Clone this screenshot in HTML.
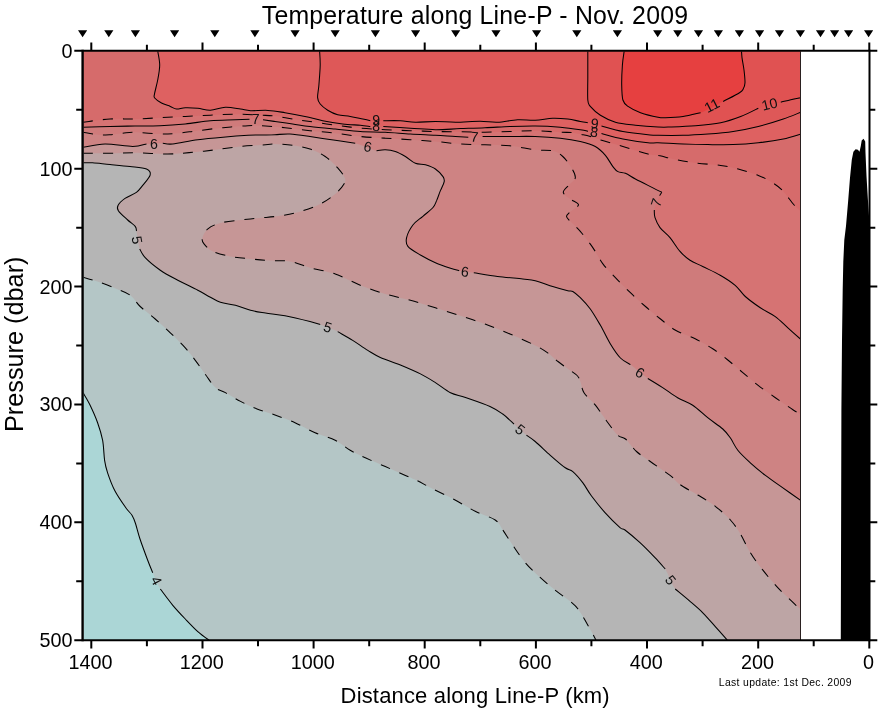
<!DOCTYPE html>
<html lang="en"><head><meta charset="utf-8"><title>Temperature along Line-P - Nov. 2009</title>
<style>
html,body{margin:0;padding:0;background:#fff;}
body{width:878px;height:708px;overflow:hidden;}
svg{display:block;}
text{font-family:"Liberation Sans",sans-serif;fill:#000;}
.tk{font-size:19.8px;}
.cl{font-size:14.2px;fill:#111;text-anchor:middle;}
.ln{fill:none;stroke:#000;stroke-width:1.05;stroke-linejoin:round;}
.ds{stroke-dasharray:10 10;}
.ax{stroke:#000;stroke-width:2.4;fill:none;}
.t1{stroke:#000;stroke-width:2.0;fill:none;}
</style></head><body>
<svg width="878" height="708" viewBox="0 0 878 708">
<rect width="878" height="708" fill="#fff"/>
<g shape-rendering="geometricPrecision">
<rect x="83.6" y="51.6" width="717.0" height="588.6" fill="#abd6d6"/>
<path d="M83.6 392.6C84.7 394.7 87.7 400.0 90.0 405.0C92.3 410.0 95.5 416.8 97.6 422.7C99.7 428.6 101.4 433.9 102.6 440.2C103.8 446.5 103.8 454.9 104.6 460.3C105.4 465.7 105.9 467.7 107.6 472.8C109.3 477.9 111.9 485.1 115.0 491.0C118.1 496.9 123.2 504.0 126.0 508.0C128.8 512.0 130.4 512.6 132.0 515.2C133.6 517.8 134.2 519.5 135.5 523.5C136.8 527.5 138.0 532.9 140.0 539.0C142.0 545.1 145.6 554.6 147.7 560.2C149.8 565.8 150.6 567.9 152.7 572.7C154.8 577.5 157.0 583.6 160.3 589.0C163.7 594.4 168.6 600.3 172.8 605.3C177.0 610.3 181.1 614.6 185.3 619.0C189.5 623.4 193.9 628.1 197.8 631.6C201.8 635.1 207.1 638.8 209.0 640.2L800.6 640.2 L800.6 51.6L83.6 51.6Z" fill="#b4c6c6"/>
<path d="M83.6 277.2C85.9 277.9 92.4 279.7 97.6 281.5C102.8 283.3 109.6 285.9 115.0 288.2C120.4 290.5 126.0 292.1 130.2 295.2C134.4 298.2 136.0 302.5 140.2 306.5C144.4 310.5 150.2 314.6 155.2 319.0C160.2 323.4 165.3 328.0 170.3 332.8C175.3 337.6 181.1 343.3 185.3 347.9C189.5 352.5 192.0 356.0 195.3 360.4C198.7 364.8 202.1 370.0 205.4 374.5C208.8 379.0 212.1 384.6 215.4 387.6C218.7 390.6 221.2 390.3 225.4 392.6C229.6 394.9 235.2 398.7 240.5 401.4C245.8 404.1 251.2 406.6 257.0 408.9C262.8 411.2 268.7 412.7 275.0 415.0C281.3 417.3 288.3 419.7 295.0 422.7C301.7 425.7 308.4 429.9 315.1 432.8C321.8 435.7 329.4 437.4 335.2 440.3C341.0 443.2 345.2 447.4 350.2 450.3C355.2 453.2 359.4 455.1 365.3 457.8C371.2 460.5 378.6 463.7 385.3 466.6C392.0 469.5 400.1 473.1 405.4 475.4C410.7 477.7 412.5 478.3 417.0 480.5C421.5 482.7 426.2 485.6 432.6 488.8C439.0 492.1 448.0 496.2 455.1 500.0C462.2 503.8 468.5 508.0 475.2 511.3C481.9 514.6 490.6 516.9 495.2 520.0C499.8 523.1 499.9 525.8 502.8 530.0C505.7 534.2 509.0 539.8 512.8 545.2C516.5 550.7 520.7 557.3 525.3 562.7C529.9 568.1 535.4 573.1 540.4 577.7C545.4 582.3 550.4 586.3 555.4 590.3C560.4 594.3 566.6 598.4 570.4 601.5C574.2 604.6 575.1 605.0 578.0 609.0C580.9 613.0 585.0 620.2 588.0 625.4C591.0 630.6 594.7 637.7 596.0 640.2L800.6 640.2 L800.6 51.6L83.6 51.6Z" fill="#b5b5b5"/>
<path d="M83.6 162.8C85.1 162.8 88.2 162.5 92.6 162.8C97.0 163.1 103.8 164.0 110.0 164.6C116.2 165.2 123.9 165.9 130.0 166.6C136.1 167.3 143.1 167.6 146.5 169.0C149.9 170.4 150.8 172.1 150.2 174.8C149.6 177.5 145.0 182.5 142.7 185.4C140.4 188.3 139.3 190.2 136.4 192.4C133.5 194.6 128.1 196.2 125.0 198.4C121.9 200.6 119.1 203.3 118.0 205.4C116.9 207.5 116.9 208.6 118.5 211.0C120.1 213.4 124.9 217.4 127.7 220.0C130.5 222.6 133.7 224.5 135.2 226.3C136.7 228.1 135.8 227.2 136.5 231.0C137.2 234.8 138.2 244.5 139.7 248.9C141.1 253.3 141.8 254.1 145.2 257.6C148.6 261.2 154.9 266.4 160.3 270.2C165.7 274.0 171.6 276.9 177.8 280.2C184.1 283.5 192.4 287.4 197.8 290.2C203.2 293.0 206.6 295.2 210.4 297.2C214.2 299.2 216.2 300.9 220.4 302.3C224.6 303.7 230.4 304.0 235.4 305.3C240.4 306.6 245.5 309.0 250.5 310.3C255.5 311.6 259.8 312.1 265.5 313.0C271.2 313.9 277.6 314.4 285.0 315.8C292.4 317.2 304.1 320.1 310.0 321.6C315.9 323.1 315.6 322.9 320.2 324.6C324.8 326.3 332.3 329.0 337.7 331.6C343.1 334.2 347.7 337.3 352.7 340.4C357.7 343.5 363.2 347.6 367.8 350.4C372.4 353.2 374.9 355.0 380.3 357.4C385.7 359.8 393.7 362.2 400.4 365.0C407.1 367.8 414.6 371.0 420.4 373.9C426.2 376.8 430.4 379.5 435.4 382.6C440.4 385.7 445.5 390.2 450.5 392.7C455.5 395.2 458.9 395.1 465.5 397.4C472.1 399.7 483.8 403.6 490.0 406.4C496.2 409.2 498.7 411.1 502.7 414.0C506.7 416.9 510.0 420.4 514.0 424.0C518.0 427.6 523.0 432.4 526.5 435.3C530.0 438.2 531.2 438.2 535.2 441.5C539.2 444.8 545.3 450.9 550.3 455.3C555.3 459.7 561.5 465.1 565.3 467.8C569.0 470.5 569.9 469.1 572.8 471.6C575.7 474.1 579.8 478.8 582.9 482.9C586.0 487.0 587.8 491.1 591.5 496.0C595.2 500.9 600.2 507.3 605.0 512.6C609.8 517.9 616.7 524.7 620.0 527.6C623.3 530.5 621.7 527.5 625.0 530.0C628.3 532.5 635.0 538.1 640.0 542.7C645.0 547.3 650.8 553.3 655.0 557.7C659.2 562.1 661.8 563.8 665.2 569.0C668.6 574.2 671.0 583.6 675.2 589.0C679.4 594.4 685.7 597.6 690.3 601.6C694.9 605.6 698.6 608.6 702.8 612.8C707.0 617.0 711.2 622.0 715.3 626.6C719.4 631.2 725.3 637.9 727.3 640.2L800.6 640.2 L800.6 51.6L83.6 51.6Z" fill="#bda5a5"/>
<path d="M83.6 153.3C88.0 153.3 101.4 153.4 110.0 153.3C118.6 153.2 125.4 152.7 135.0 152.8C144.6 152.9 158.2 154.1 167.8 154.0C177.4 153.9 184.9 153.0 192.8 152.3C200.7 151.6 207.5 150.8 215.4 149.8C223.3 148.8 232.2 147.3 240.5 146.5C248.8 145.7 259.8 145.2 265.5 144.8C271.2 144.4 270.5 143.9 275.0 144.0C279.5 144.1 286.8 144.5 292.6 145.3C298.4 146.1 304.6 147.1 310.0 149.0C315.4 150.9 320.6 153.4 325.2 156.5C329.8 159.6 334.4 164.2 337.7 167.8C340.9 171.4 343.6 175.1 344.7 177.8C345.8 180.5 345.6 181.3 344.0 184.0C342.4 186.7 339.2 190.7 335.2 194.0C331.2 197.3 326.1 201.1 320.2 204.0C314.3 206.9 306.7 209.7 300.0 211.7C293.3 213.7 286.7 214.8 280.0 215.8C273.3 216.9 266.6 217.3 260.0 218.0C253.4 218.7 247.1 219.2 240.5 220.0C233.9 220.8 225.8 221.5 220.4 223.0C215.0 224.5 210.9 226.3 207.9 228.8C204.9 231.3 203.1 235.5 202.4 238.0C201.8 240.5 202.2 241.7 204.0 243.9C205.8 246.1 208.5 249.3 212.9 251.4C217.3 253.5 224.1 255.1 230.4 256.4C236.7 257.6 243.9 258.2 250.5 258.9C257.1 259.6 263.4 260.2 270.0 260.6C276.6 261.0 283.3 260.2 290.0 261.4C296.7 262.6 302.5 265.6 310.0 267.7C317.5 269.8 326.8 271.1 335.2 274.0C343.6 276.9 351.9 281.9 360.3 285.2C368.7 288.5 377.0 291.5 385.3 294.0C393.6 296.5 402.0 298.0 410.4 300.3C418.8 302.6 427.0 305.2 435.4 307.8C443.8 310.4 452.2 313.1 460.5 315.8C468.8 318.5 476.8 321.0 485.0 324.0C493.2 327.0 501.6 330.4 510.0 334.0C518.4 337.6 528.9 342.2 535.2 345.4C541.5 348.5 543.9 350.2 547.7 352.9C551.5 355.6 554.6 358.9 558.0 361.5C561.4 364.1 564.7 366.6 567.8 368.8C570.9 371.1 574.5 372.9 576.6 375.0C578.7 377.1 579.2 378.4 580.4 381.4C581.6 384.3 581.5 388.7 584.0 392.7C586.5 396.7 591.4 400.2 595.4 405.2C599.4 410.2 604.1 417.7 607.9 422.7C611.6 427.7 615.0 432.6 617.9 435.3C620.8 438.0 622.4 436.3 625.5 439.0C628.6 441.7 632.4 447.8 636.5 451.5C640.6 455.2 644.7 457.5 650.3 461.5C655.9 465.5 665.1 471.6 670.1 475.4C675.1 479.2 675.4 481.2 680.0 484.5C684.6 487.8 691.9 491.4 697.8 495.0C703.7 498.6 709.9 502.1 715.3 506.3C720.7 510.5 726.2 515.4 730.4 520.0C734.6 524.6 737.1 528.4 740.4 533.9C743.7 539.4 746.6 546.7 750.4 552.7C754.1 558.8 758.3 564.4 762.9 570.2C767.5 576.1 772.6 582.0 778.0 587.8C783.4 593.6 791.7 601.3 795.5 604.8C799.3 608.3 799.8 608.3 800.6 609.0L800.6 51.6L83.6 51.6Z" fill="#c69696"/>
<path d="M83.6 147.3C87.2 146.8 96.8 144.1 105.0 144.0C113.2 143.9 125.8 146.5 132.7 146.5C139.6 146.5 141.5 144.5 146.5 144.0C151.5 143.5 158.4 143.3 162.8 143.3C167.2 143.3 167.0 144.6 172.8 144.0C178.6 143.4 189.4 140.8 197.8 139.7C206.2 138.6 214.6 137.9 223.0 137.2C231.4 136.4 241.5 135.6 248.0 135.2C254.5 134.8 257.5 135.1 262.0 135.0C266.5 134.9 270.3 134.9 275.0 134.7C279.7 134.5 284.2 133.7 290.0 134.0C295.8 134.3 302.5 135.4 310.0 136.5C317.5 137.6 327.7 139.2 335.2 140.3C342.7 141.4 348.3 141.6 355.2 143.3C362.1 145.1 371.5 149.7 376.5 150.8C381.5 151.9 382.2 149.7 385.3 149.8C388.4 149.9 392.0 150.4 395.3 151.5C398.6 152.6 402.0 154.5 405.4 156.5C408.8 158.5 412.1 161.9 415.4 163.3C418.7 164.7 422.1 163.9 425.4 164.8C428.7 165.8 432.5 167.0 435.4 169.0C438.3 171.0 441.5 174.5 443.0 176.6C444.5 178.7 444.6 179.3 444.2 181.6C443.8 183.9 441.8 187.3 440.5 190.4C439.2 193.5 437.9 197.6 436.7 200.4C435.4 203.2 435.3 204.8 433.0 207.5C430.7 210.2 426.2 213.4 422.9 216.3C419.5 219.2 415.6 221.4 412.9 225.0C410.2 228.6 407.4 234.0 406.6 237.6C405.8 241.2 405.6 243.5 407.9 246.4C410.2 249.3 415.8 252.3 420.4 255.0C425.0 257.7 430.4 260.5 435.4 262.7C440.4 264.9 446.5 266.9 450.5 268.2C454.5 269.5 455.3 269.9 459.2 270.7C463.1 271.4 467.4 271.8 473.8 272.7C480.2 273.6 489.5 275.3 497.6 276.4C505.8 277.4 516.4 278.3 522.7 279.0C529.0 279.7 530.2 279.4 535.2 280.7C540.2 281.9 547.3 284.8 552.7 286.5C558.1 288.2 564.4 289.9 567.8 290.7C571.1 291.5 570.7 290.3 572.8 291.5C574.9 292.7 577.4 294.8 580.3 297.7C583.2 300.6 586.9 304.4 590.3 309.0C593.6 313.6 597.0 319.5 600.4 325.3C603.8 331.1 607.1 338.6 610.4 344.0C613.7 349.4 617.1 354.6 620.4 358.0C623.7 361.4 625.8 361.2 630.4 364.6C635.0 368.0 642.4 374.7 647.8 378.5C653.2 382.3 657.6 384.4 662.6 387.6C667.6 390.8 672.6 394.8 677.6 397.7C682.6 400.6 687.7 401.9 692.7 405.2C697.7 408.5 702.7 413.7 707.7 417.7C712.7 421.7 719.0 425.6 722.8 429.0C726.6 432.4 727.8 434.2 730.3 437.8C732.8 441.4 734.5 446.1 737.8 450.3C741.1 454.5 745.7 458.6 750.3 462.8C754.9 467.0 760.0 471.2 765.4 475.4C770.8 479.6 777.0 483.7 782.9 487.9C788.8 492.1 797.6 498.5 800.6 500.6L800.6 51.6L83.6 51.6Z" fill="#ce8383"/>
<path d="M83.6 132.2C85.9 132.6 93.2 134.3 97.6 134.7C102.0 135.1 105.8 134.9 110.0 134.7C114.2 134.4 118.5 133.6 122.7 133.2C126.9 132.8 128.8 132.1 135.0 132.2C141.2 132.3 152.9 133.8 160.0 134.0C167.1 134.2 171.5 133.8 177.8 133.2C184.1 132.6 190.3 131.6 197.8 130.7C205.3 129.8 214.6 128.5 223.0 127.7C231.4 126.9 240.9 126.0 248.0 125.7C255.1 125.4 259.3 125.7 265.5 126.0C271.7 126.3 277.6 126.9 285.0 127.7C292.4 128.5 301.6 129.8 310.0 130.7C318.4 131.6 326.8 132.2 335.2 133.2C343.6 134.2 351.9 135.7 360.3 136.5C368.7 137.3 377.0 137.7 385.3 138.2C393.6 138.7 402.0 139.1 410.4 139.7C418.8 140.2 427.0 140.8 435.4 141.5C443.8 142.2 452.2 143.4 460.5 144.0C468.8 144.6 476.8 144.5 485.0 144.8C493.2 145.1 501.6 145.0 510.0 145.8C518.4 146.6 528.1 149.0 535.2 149.8C542.3 150.6 548.1 149.7 552.7 150.8C557.3 151.9 559.7 153.7 562.8 156.5C565.9 159.3 569.4 164.2 571.5 167.8C573.6 171.4 575.7 174.9 575.3 177.8C574.9 180.7 571.0 182.6 569.0 185.0C567.0 187.4 563.1 190.1 563.3 192.4C563.5 194.7 567.8 196.9 570.3 199.0C572.8 201.1 578.5 202.7 578.5 204.8C578.5 206.9 572.3 209.9 570.3 211.8C568.3 213.7 566.5 214.7 566.5 216.3C566.5 217.9 568.0 218.8 570.3 221.3C572.6 223.8 576.5 226.9 580.3 231.3C584.0 235.7 589.0 242.2 592.8 247.6C596.6 253.0 599.1 258.9 602.9 263.9C606.7 268.9 610.8 272.9 615.4 277.7C620.0 282.5 625.4 287.9 630.4 292.7C635.4 297.5 640.5 302.1 645.5 306.5C650.5 310.9 655.6 315.1 660.5 319.0C665.4 322.9 669.3 326.7 675.1 330.0C680.9 333.3 688.9 335.7 695.2 338.8C701.5 341.9 707.3 345.3 712.7 348.8C718.1 352.3 722.8 356.0 727.8 360.0C732.8 364.0 737.8 368.4 742.8 372.6C747.8 376.8 752.4 380.9 757.8 385.1C763.2 389.3 769.5 393.6 775.4 397.7C781.2 401.8 788.7 406.9 792.9 409.7C797.1 412.5 799.3 413.5 800.6 414.3L800.6 51.6L83.6 51.6Z" fill="#cf7b7b"/>
<path d="M83.6 127.2C88.0 127.1 101.4 126.7 110.0 126.5C118.6 126.3 126.7 126.1 135.0 126.0C143.3 125.9 151.6 126.0 160.0 125.7C168.4 125.4 176.9 124.8 185.3 124.0C193.7 123.2 202.1 121.4 210.4 120.7C218.8 120.0 228.9 120.0 235.4 119.7C241.9 119.5 244.9 119.2 249.5 119.2C254.1 119.2 258.8 119.3 263.0 119.7C267.2 120.1 270.1 120.8 275.0 121.5C279.9 122.2 286.8 123.2 292.6 124.0C298.4 124.8 302.9 125.7 310.0 126.5C317.1 127.3 326.8 128.2 335.2 129.0C343.6 129.8 351.9 131.0 360.3 131.5C368.7 132.0 377.0 131.8 385.3 132.2C393.6 132.6 402.0 133.5 410.4 134.0C418.8 134.5 427.9 134.8 435.4 135.2C442.9 135.6 450.0 136.2 455.5 136.5C461.0 136.8 463.8 137.2 468.3 137.2C472.8 137.2 475.7 136.6 482.6 136.5C489.6 136.4 501.2 136.5 510.0 136.5C518.8 136.5 526.8 136.2 535.2 136.5C543.6 136.8 552.8 137.4 560.3 138.2C567.8 139.0 574.5 140.1 580.3 141.5C586.1 142.9 591.1 144.2 595.3 146.5C599.5 148.8 602.5 152.0 605.4 155.3C608.3 158.7 610.8 163.9 612.9 166.6C615.0 169.3 615.8 170.5 617.9 171.6C620.0 172.7 622.5 172.1 625.4 173.3C628.3 174.5 631.6 177.0 635.4 179.0C639.2 181.0 643.6 183.2 648.0 185.4C652.4 187.6 659.5 191.2 661.8 192.3C664.1 193.5 662.2 191.8 661.8 192.3C661.4 192.9 660.9 192.7 659.6 195.6C658.4 198.5 655.1 206.3 654.3 210.0C653.5 213.7 654.0 214.7 655.0 217.6C656.0 220.5 657.5 224.3 660.0 227.6C662.5 230.9 666.7 233.6 670.0 237.6C673.3 241.6 676.7 247.6 680.0 251.4C683.3 255.2 686.2 257.7 690.0 260.2C693.8 262.7 697.7 264.0 702.7 266.5C707.7 269.0 714.8 272.1 720.2 275.2C725.6 278.3 731.0 281.8 735.2 285.3C739.4 288.9 741.1 292.8 745.3 296.5C749.5 300.2 755.3 304.4 760.3 307.8C765.3 311.2 770.7 313.2 775.3 316.6C779.9 320.0 783.7 324.1 787.9 327.9C792.1 331.7 798.5 337.6 800.6 339.5L800.6 51.6L83.6 51.6Z" fill="#d67373"/>
<path d="M83.6 122.2C88.0 121.7 101.4 119.5 110.0 119.0C118.6 118.5 126.7 119.2 135.0 119.0C143.3 118.8 151.6 118.1 160.0 117.7C168.4 117.3 176.9 116.8 185.3 116.4C193.7 116.0 202.1 115.6 210.4 115.2C218.8 114.8 227.1 114.2 235.4 114.2C243.7 114.2 253.4 114.9 260.0 115.2C266.6 115.5 269.6 115.4 275.0 116.0C280.4 116.6 286.8 118.1 292.6 119.0C298.4 119.9 302.9 120.5 310.0 121.5C317.1 122.5 326.8 124.1 335.2 125.2C343.6 126.3 351.9 127.4 360.3 128.2C368.7 128.9 377.0 129.3 385.3 129.7C393.6 130.1 402.0 130.4 410.4 130.7C418.8 131.0 427.0 131.3 435.4 131.5C443.8 131.7 452.2 131.7 460.5 131.8C468.8 131.9 476.8 132.2 485.0 132.2C493.2 132.1 501.6 131.8 510.0 131.5C518.4 131.2 526.8 130.6 535.2 130.7C543.6 130.8 554.0 131.9 560.3 132.2C566.6 132.5 569.0 132.3 572.8 132.7C576.5 133.1 579.9 134.1 582.8 134.7C585.7 135.3 587.2 135.6 590.3 136.5C593.4 137.4 596.2 138.6 601.6 140.3C607.0 142.0 615.2 144.2 622.9 146.5C630.6 148.8 641.8 152.4 648.0 154.0C654.2 155.6 655.8 155.0 660.0 155.8C664.2 156.6 667.1 157.8 673.0 159.0C678.9 160.2 687.6 161.8 695.6 162.9C703.6 164.0 713.6 164.4 720.7 165.4C727.8 166.4 731.9 167.3 738.2 169.0C744.5 170.7 752.9 173.3 758.3 175.4C763.7 177.5 766.8 179.3 770.8 181.7C774.8 184.1 778.1 186.1 782.0 190.0C785.9 193.9 791.0 201.5 794.1 205.0C797.2 208.5 799.5 210.0 800.6 211.0L800.6 51.6L83.6 51.6Z" fill="#d66b6b"/>
<path d="M157.7 51.6C158.0 53.8 159.7 60.3 159.7 65.0C159.7 69.7 158.6 75.2 157.7 80.0C156.8 84.8 155.0 91.0 154.5 94.0C154.0 97.0 153.5 96.5 154.7 98.0C155.9 99.5 158.9 101.6 161.5 103.0C164.1 104.4 167.8 105.4 170.3 106.4C172.8 107.4 174.0 108.8 176.5 109.0C179.0 109.2 181.8 107.8 185.3 107.7C188.9 107.6 193.6 107.8 197.8 108.2C202.0 108.6 205.8 110.4 210.4 110.2C215.0 110.0 220.4 107.4 225.4 107.2C230.4 107.0 236.3 108.4 240.5 109.0C244.7 109.6 245.9 110.5 250.5 110.7C255.1 110.9 262.2 110.1 268.0 110.4C273.8 110.7 278.8 111.7 285.0 112.7C291.2 113.7 298.7 115.1 305.0 116.4C311.3 117.7 316.4 119.4 322.7 120.7C329.0 122.0 336.4 123.2 342.7 124.0C349.0 124.8 355.7 124.8 360.3 125.2C364.9 125.6 366.5 126.3 370.3 126.5C374.1 126.7 376.6 126.2 383.3 126.5C390.0 126.8 401.7 127.7 410.4 128.2C419.1 128.7 427.0 129.6 435.4 129.7C443.8 129.8 452.2 128.9 460.5 128.6C468.8 128.3 476.8 128.1 485.0 127.7C493.2 127.4 501.6 126.8 510.0 126.5C518.4 126.2 526.8 125.9 535.2 126.0C543.6 126.1 552.8 126.6 560.3 127.2C567.8 127.8 575.7 129.0 580.3 129.7C584.9 130.4 584.5 130.7 588.0 131.3C591.5 132.0 595.7 132.3 601.5 133.6C607.3 134.9 615.1 137.5 622.9 139.0C630.6 140.5 642.1 142.2 648.0 142.8C653.9 143.4 652.2 142.6 658.0 142.8C663.8 143.0 674.7 143.7 683.0 144.0C691.3 144.3 699.6 144.5 708.0 144.6C716.4 144.7 724.8 144.9 733.2 144.6C741.6 144.3 749.9 143.7 758.3 142.8C766.6 141.9 776.2 140.5 783.3 139.0C790.3 137.5 797.7 134.8 800.6 134.0L800.6 51.6Z" fill="#de6161"/>
<path d="M319.6 51.6C319.7 53.8 320.3 59.4 320.2 65.0C320.1 70.6 319.3 79.6 318.9 85.0C318.5 90.4 317.4 94.4 317.6 97.6C317.8 100.8 318.5 101.9 320.2 104.0C321.9 106.1 324.8 108.4 327.7 110.2C330.6 112.0 333.9 113.7 337.7 114.7C341.4 115.7 346.0 115.7 350.2 116.4C354.4 117.1 359.4 118.3 362.8 119.0C366.2 119.7 366.9 120.4 370.3 120.7C373.7 121.0 378.3 120.7 383.3 120.7C388.3 120.7 395.0 120.5 400.4 120.7C405.8 121.0 409.6 122.1 415.4 122.2C421.2 122.3 428.7 121.5 435.4 121.5C442.1 121.5 448.1 122.2 455.5 122.2C462.9 122.2 473.0 121.2 480.0 121.2C487.0 121.2 491.3 122.5 497.6 122.2C503.9 122.0 511.3 120.0 517.6 119.7C523.9 119.4 529.4 120.5 535.2 120.2C541.1 120.0 547.3 118.4 552.7 118.2C558.1 118.0 563.2 118.5 567.8 119.0C572.4 119.5 577.0 120.9 580.3 121.5C583.6 122.1 584.3 122.0 587.8 122.7C591.3 123.5 595.6 124.5 601.5 126.0C607.4 127.5 615.1 130.1 622.9 131.5C630.6 132.9 642.1 134.1 648.0 134.7C653.9 135.3 652.2 135.2 658.0 135.3C663.8 135.4 674.7 135.5 683.0 135.3C691.3 135.1 699.6 134.6 708.0 134.0C716.4 133.4 724.8 132.8 733.2 131.5C741.6 130.2 749.9 128.6 758.3 126.5C766.6 124.4 776.2 121.4 783.3 119.0C790.3 116.6 797.7 113.3 800.6 112.2L800.6 51.6Z" fill="#de5858"/>
<path d="M587.8 51.6C587.8 55.9 587.8 69.5 587.8 77.6C587.8 85.7 587.4 95.2 587.8 100.0C588.2 104.8 588.2 103.9 590.3 106.4C592.4 108.9 596.2 112.6 600.4 115.2C604.6 117.8 609.6 120.5 615.4 122.2C621.2 123.9 628.3 124.4 635.4 125.2C642.5 126.0 652.1 126.7 658.0 127.0C663.9 127.3 664.2 127.2 670.5 127.0C676.8 126.8 687.2 126.5 695.6 125.8C704.0 125.1 713.2 124.3 720.7 122.8C728.2 121.2 734.4 118.9 740.7 116.5C747.0 114.1 751.6 110.6 758.3 108.2C765.0 105.8 775.4 103.6 780.8 102.2C786.2 100.8 787.5 100.5 790.8 99.7C794.1 99.0 799.0 98.0 800.6 97.7L800.6 51.6Z" fill="#e05252"/>
<path d="M624.2 51.6C623.9 53.8 622.8 59.4 622.4 65.0C622.0 70.6 621.6 79.2 621.7 85.0C621.8 90.8 621.9 96.4 622.9 100.0C623.9 103.6 625.1 104.3 628.0 106.4C630.9 108.5 635.5 110.9 640.5 112.7C645.5 114.5 653.8 116.4 658.0 117.2C662.2 118.0 661.3 117.8 665.5 117.7C669.7 117.6 677.1 117.3 683.0 116.5C688.9 115.7 693.9 115.2 700.6 112.7C707.3 110.2 716.7 104.8 723.2 101.5C729.7 98.2 736.2 94.8 739.5 92.7C742.8 90.6 742.3 90.7 743.2 89.0C744.1 87.3 744.9 85.9 745.0 82.7C745.1 79.5 744.5 74.2 744.0 70.0C743.5 65.8 742.4 60.7 742.0 57.6C741.6 54.5 741.6 52.6 741.5 51.6Z" fill="#e64040"/>
</g>
<clipPath id="cp"><rect x="83.6" y="51.6" width="717.3" height="588.6"/></clipPath>
<g class="ln" clip-path="url(#cp)">
<path d="M83.0 392.6C84.2 394.7 87.6 400.0 90.0 405.0C92.4 410.0 95.5 416.8 97.6 422.7C99.7 428.6 101.4 433.9 102.6 440.2C103.8 446.5 103.8 454.9 104.6 460.3C105.4 465.7 105.9 467.7 107.6 472.8C109.3 477.9 111.9 485.1 115.0 491.0C118.1 496.9 123.2 504.0 126.0 508.0C128.8 512.0 130.4 512.6 132.0 515.2C133.6 517.8 134.2 519.5 135.5 523.5C136.8 527.5 138.0 532.9 140.0 539.0C142.0 545.1 145.6 554.6 147.7 560.2C149.8 565.8 151.9 570.6 152.7 572.7"/>
<path d="M160.3 589.0C162.4 591.7 168.6 600.3 172.8 605.3C177.0 610.3 181.1 614.6 185.3 619.0C189.5 623.4 193.9 628.1 197.8 631.6C201.8 635.1 207.1 638.8 209.0 640.2"/>
<path class="ds" d="M83.0 277.2C85.4 277.9 92.3 279.7 97.6 281.5C102.9 283.3 109.6 285.9 115.0 288.2C120.4 290.5 126.0 292.1 130.2 295.2C134.4 298.2 136.0 302.5 140.2 306.5C144.4 310.5 150.2 314.6 155.2 319.0C160.2 323.4 165.3 328.0 170.3 332.8C175.3 337.6 181.1 343.3 185.3 347.9C189.5 352.5 192.0 356.0 195.3 360.4C198.7 364.8 202.1 370.0 205.4 374.5C208.8 379.0 212.1 384.6 215.4 387.6C218.7 390.6 221.2 390.3 225.4 392.6C229.6 394.9 235.2 398.7 240.5 401.4C245.8 404.1 251.2 406.6 257.0 408.9C262.8 411.2 268.7 412.7 275.0 415.0C281.3 417.3 288.3 419.7 295.0 422.7C301.7 425.7 308.4 429.9 315.1 432.8C321.8 435.7 329.4 437.4 335.2 440.3C341.0 443.2 345.2 447.4 350.2 450.3C355.2 453.2 359.4 455.1 365.3 457.8C371.2 460.5 378.6 463.7 385.3 466.6C392.0 469.5 400.1 473.1 405.4 475.4C410.7 477.7 412.5 478.3 417.0 480.5C421.5 482.7 426.2 485.6 432.6 488.8C439.0 492.1 448.0 496.2 455.1 500.0C462.2 503.8 468.5 508.0 475.2 511.3C481.9 514.6 490.6 516.9 495.2 520.0C499.8 523.1 499.9 525.8 502.8 530.0C505.7 534.2 509.0 539.8 512.8 545.2C516.5 550.7 520.7 557.3 525.3 562.7C529.9 568.1 535.4 573.1 540.4 577.7C545.4 582.3 550.4 586.3 555.4 590.3C560.4 594.3 566.6 598.4 570.4 601.5C574.2 604.6 575.1 605.0 578.0 609.0C580.9 613.0 585.0 620.2 588.0 625.4C591.0 630.6 594.7 637.7 596.0 640.2"/>
<path d="M83.0 162.8C84.6 162.8 88.1 162.5 92.6 162.8C97.1 163.1 103.8 164.0 110.0 164.6C116.2 165.2 123.9 165.9 130.0 166.6C136.1 167.3 143.1 167.6 146.5 169.0C149.9 170.4 150.8 172.1 150.2 174.8C149.6 177.5 145.0 182.5 142.7 185.4C140.4 188.3 139.3 190.2 136.4 192.4C133.5 194.6 128.1 196.2 125.0 198.4C121.9 200.6 119.1 203.3 118.0 205.4C116.9 207.5 116.9 208.6 118.5 211.0C120.1 213.4 124.9 217.4 127.7 220.0C130.5 222.6 133.7 224.5 135.2 226.3C136.7 228.1 136.3 230.2 136.5 231.0"/>
<path d="M139.7 248.9C140.6 250.4 141.8 254.1 145.2 257.6C148.6 261.2 154.9 266.4 160.3 270.2C165.7 274.0 171.6 276.9 177.8 280.2C184.1 283.5 192.4 287.4 197.8 290.2C203.2 293.0 206.6 295.2 210.4 297.2C214.2 299.2 216.2 300.9 220.4 302.3C224.6 303.7 230.4 304.0 235.4 305.3C240.4 306.6 245.5 309.0 250.5 310.3C255.5 311.6 259.8 312.1 265.5 313.0C271.2 313.9 277.6 314.4 285.0 315.8C292.4 317.2 304.1 320.1 310.0 321.6C315.9 323.1 318.5 324.1 320.2 324.6"/>
<path d="M337.7 331.6C340.2 333.1 347.7 337.3 352.7 340.4C357.7 343.5 363.2 347.6 367.8 350.4C372.4 353.2 374.9 355.0 380.3 357.4C385.7 359.8 393.7 362.2 400.4 365.0C407.1 367.8 414.6 371.0 420.4 373.9C426.2 376.8 430.4 379.5 435.4 382.6C440.4 385.7 445.5 390.2 450.5 392.7C455.5 395.2 458.9 395.1 465.5 397.4C472.1 399.7 483.8 403.6 490.0 406.4C496.2 409.2 498.7 411.1 502.7 414.0C506.7 416.9 512.1 422.3 514.0 424.0"/>
<path d="M526.5 435.3C528.0 436.3 531.2 438.2 535.2 441.5C539.2 444.8 545.3 450.9 550.3 455.3C555.3 459.7 561.5 465.1 565.3 467.8C569.0 470.5 569.9 469.1 572.8 471.6C575.7 474.1 579.8 478.8 582.9 482.9C586.0 487.0 587.8 491.1 591.5 496.0C595.2 500.9 600.2 507.3 605.0 512.6C609.8 517.9 616.7 524.7 620.0 527.6C623.3 530.5 621.7 527.5 625.0 530.0C628.3 532.5 635.0 538.1 640.0 542.7C645.0 547.3 650.8 553.3 655.0 557.7C659.2 562.1 663.5 567.1 665.2 569.0"/>
<path d="M675.2 589.0C677.7 591.1 685.7 597.6 690.3 601.6C694.9 605.6 698.6 608.6 702.8 612.8C707.0 617.0 711.2 622.0 715.3 626.6C719.4 631.2 725.3 637.9 727.3 640.2"/>
<path class="ds" d="M83.0 153.3C87.5 153.3 101.3 153.4 110.0 153.3C118.7 153.2 125.4 152.7 135.0 152.8C144.6 152.9 158.2 154.1 167.8 154.0C177.4 153.9 184.9 153.0 192.8 152.3C200.7 151.6 207.5 150.8 215.4 149.8C223.3 148.8 232.2 147.3 240.5 146.5C248.8 145.7 259.8 145.2 265.5 144.8C271.2 144.4 270.5 143.9 275.0 144.0C279.5 144.1 286.8 144.5 292.6 145.3C298.4 146.1 304.6 147.1 310.0 149.0C315.4 150.9 320.6 153.4 325.2 156.5C329.8 159.6 334.4 164.2 337.7 167.8C340.9 171.4 343.6 175.1 344.7 177.8C345.8 180.5 345.6 181.3 344.0 184.0C342.4 186.7 339.2 190.7 335.2 194.0C331.2 197.3 326.1 201.1 320.2 204.0C314.3 206.9 306.7 209.7 300.0 211.7C293.3 213.7 286.7 214.8 280.0 215.8C273.3 216.9 266.6 217.3 260.0 218.0C253.4 218.7 247.1 219.2 240.5 220.0C233.9 220.8 225.8 221.5 220.4 223.0C215.0 224.5 210.9 226.3 207.9 228.8C204.9 231.3 203.1 235.5 202.4 238.0C201.8 240.5 202.2 241.7 204.0 243.9C205.8 246.1 208.5 249.3 212.9 251.4C217.3 253.5 224.1 255.1 230.4 256.4C236.7 257.6 243.9 258.2 250.5 258.9C257.1 259.6 263.4 260.2 270.0 260.6C276.6 261.0 283.3 260.2 290.0 261.4C296.7 262.6 302.5 265.6 310.0 267.7C317.5 269.8 326.8 271.1 335.2 274.0C343.6 276.9 351.9 281.9 360.3 285.2C368.7 288.5 377.0 291.5 385.3 294.0C393.6 296.5 402.0 298.0 410.4 300.3C418.8 302.6 427.0 305.2 435.4 307.8C443.8 310.4 452.2 313.1 460.5 315.8C468.8 318.5 476.8 321.0 485.0 324.0C493.2 327.0 501.6 330.4 510.0 334.0C518.4 337.6 528.9 342.2 535.2 345.4C541.5 348.5 543.9 350.2 547.7 352.9C551.5 355.6 554.6 358.9 558.0 361.5C561.4 364.1 564.7 366.6 567.8 368.8C570.9 371.1 574.5 372.9 576.6 375.0C578.7 377.1 579.2 378.4 580.4 381.4C581.6 384.3 581.5 388.7 584.0 392.7C586.5 396.7 591.4 400.2 595.4 405.2C599.4 410.2 604.1 417.7 607.9 422.7C611.6 427.7 615.0 432.6 617.9 435.3C620.8 438.0 622.4 436.3 625.5 439.0C628.6 441.7 632.4 447.8 636.5 451.5C640.6 455.2 644.7 457.5 650.3 461.5C655.9 465.5 665.1 471.6 670.1 475.4C675.1 479.2 675.4 481.2 680.0 484.5C684.6 487.8 691.9 491.4 697.8 495.0C703.7 498.6 709.9 502.1 715.3 506.3C720.7 510.5 726.2 515.4 730.4 520.0C734.6 524.6 737.1 528.4 740.4 533.9C743.7 539.4 746.6 546.7 750.4 552.7C754.1 558.8 758.3 564.4 762.9 570.2C767.5 576.1 772.6 582.0 778.0 587.8C783.4 593.6 791.7 601.3 795.5 604.8C799.3 608.3 800.1 608.3 801.0 609.0"/>
<path d="M83.0 147.3C86.7 146.8 96.7 144.1 105.0 144.0C113.3 143.9 125.8 146.5 132.7 146.5C139.6 146.5 144.2 144.4 146.5 144.0"/>
<path d="M162.8 143.3C164.5 143.4 167.0 144.6 172.8 144.0C178.6 143.4 189.4 140.8 197.8 139.7C206.2 138.6 214.6 137.9 223.0 137.2C231.4 136.4 241.5 135.6 248.0 135.2C254.5 134.8 257.5 135.1 262.0 135.0C266.5 134.9 270.3 134.9 275.0 134.7C279.7 134.5 284.2 133.7 290.0 134.0C295.8 134.3 302.5 135.4 310.0 136.5C317.5 137.6 327.7 139.2 335.2 140.3C342.7 141.4 351.9 142.8 355.2 143.3"/>
<path d="M376.5 150.8C378.0 150.6 382.2 149.7 385.3 149.8C388.4 149.9 392.0 150.4 395.3 151.5C398.6 152.6 402.0 154.5 405.4 156.5C408.8 158.5 412.1 161.9 415.4 163.3C418.7 164.7 422.1 163.9 425.4 164.8C428.7 165.8 432.5 167.0 435.4 169.0C438.3 171.0 441.5 174.5 443.0 176.6C444.5 178.7 444.6 179.3 444.2 181.6C443.8 183.9 441.8 187.3 440.5 190.4C439.2 193.5 437.9 197.6 436.7 200.4C435.4 203.2 435.3 204.8 433.0 207.5C430.7 210.2 426.2 213.4 422.9 216.3C419.5 219.2 415.6 221.4 412.9 225.0C410.2 228.6 407.4 234.0 406.6 237.6C405.8 241.2 405.6 243.5 407.9 246.4C410.2 249.3 415.8 252.3 420.4 255.0C425.0 257.7 430.4 260.5 435.4 262.7C440.4 264.9 446.5 266.9 450.5 268.2C454.5 269.5 457.8 270.3 459.2 270.7"/>
<path d="M473.8 272.7C477.8 273.3 489.5 275.3 497.6 276.4C505.8 277.4 516.4 278.3 522.7 279.0C529.0 279.7 530.2 279.4 535.2 280.7C540.2 281.9 547.3 284.8 552.7 286.5C558.1 288.2 564.4 289.9 567.8 290.7C571.1 291.5 570.7 290.3 572.8 291.5C574.9 292.7 577.4 294.8 580.3 297.7C583.2 300.6 586.9 304.4 590.3 309.0C593.6 313.6 597.0 319.5 600.4 325.3C603.8 331.1 607.1 338.6 610.4 344.0C613.7 349.4 617.1 354.6 620.4 358.0C623.7 361.4 628.7 363.5 630.4 364.6"/>
<path d="M647.8 378.5C650.3 380.0 657.6 384.4 662.6 387.6C667.6 390.8 672.6 394.8 677.6 397.7C682.6 400.6 687.7 401.9 692.7 405.2C697.7 408.5 702.7 413.7 707.7 417.7C712.7 421.7 719.0 425.6 722.8 429.0C726.6 432.4 727.8 434.2 730.3 437.8C732.8 441.4 734.5 446.1 737.8 450.3C741.1 454.5 745.7 458.6 750.3 462.8C754.9 467.0 760.0 471.2 765.4 475.4C770.8 479.6 777.0 483.7 782.9 487.9C788.8 492.1 798.0 498.5 801.0 500.6"/>
<path class="ds" d="M83.0 132.2C85.4 132.6 93.1 134.3 97.6 134.7C102.1 135.1 105.8 134.9 110.0 134.7C114.2 134.4 118.5 133.6 122.7 133.2C126.9 132.8 128.8 132.1 135.0 132.2C141.2 132.3 152.9 133.8 160.0 134.0C167.1 134.2 171.5 133.8 177.8 133.2C184.1 132.6 190.3 131.6 197.8 130.7C205.3 129.8 214.6 128.5 223.0 127.7C231.4 126.9 240.9 126.0 248.0 125.7C255.1 125.4 259.3 125.7 265.5 126.0C271.7 126.3 277.6 126.9 285.0 127.7C292.4 128.5 301.6 129.8 310.0 130.7C318.4 131.6 326.8 132.2 335.2 133.2C343.6 134.2 351.9 135.7 360.3 136.5C368.7 137.3 377.0 137.7 385.3 138.2C393.6 138.7 402.0 139.1 410.4 139.7C418.8 140.2 427.0 140.8 435.4 141.5C443.8 142.2 452.2 143.4 460.5 144.0C468.8 144.6 476.8 144.5 485.0 144.8C493.2 145.1 501.6 145.0 510.0 145.8C518.4 146.6 528.1 149.0 535.2 149.8C542.3 150.6 548.1 149.7 552.7 150.8C557.3 151.9 559.7 153.7 562.8 156.5C565.9 159.3 569.4 164.2 571.5 167.8C573.6 171.4 575.7 174.9 575.3 177.8C574.9 180.7 571.0 182.6 569.0 185.0C567.0 187.4 563.1 190.1 563.3 192.4C563.5 194.7 567.8 196.9 570.3 199.0C572.8 201.1 578.5 202.7 578.5 204.8C578.5 206.9 572.3 209.9 570.3 211.8C568.3 213.7 566.5 214.7 566.5 216.3C566.5 217.9 568.0 218.8 570.3 221.3C572.6 223.8 576.5 226.9 580.3 231.3C584.0 235.7 589.0 242.2 592.8 247.6C596.6 253.0 599.1 258.9 602.9 263.9C606.7 268.9 610.8 272.9 615.4 277.7C620.0 282.5 625.4 287.9 630.4 292.7C635.4 297.5 640.5 302.1 645.5 306.5C650.5 310.9 655.6 315.1 660.5 319.0C665.4 322.9 669.3 326.7 675.1 330.0C680.9 333.3 688.9 335.7 695.2 338.8C701.5 341.9 707.3 345.3 712.7 348.8C718.1 352.3 722.8 356.0 727.8 360.0C732.8 364.0 737.8 368.4 742.8 372.6C747.8 376.8 752.4 380.9 757.8 385.1C763.2 389.3 769.5 393.6 775.4 397.7C781.2 401.8 788.6 406.9 792.9 409.7C797.2 412.5 799.6 413.5 801.0 414.3"/>
<path d="M83.0 127.2C87.5 127.1 101.3 126.7 110.0 126.5C118.7 126.3 126.7 126.1 135.0 126.0C143.3 125.9 151.6 126.0 160.0 125.7C168.4 125.4 176.9 124.8 185.3 124.0C193.7 123.2 202.1 121.4 210.4 120.7C218.8 120.0 228.9 120.0 235.4 119.7C241.9 119.5 247.2 119.3 249.5 119.2"/>
<path d="M263.0 119.7C265.0 120.0 270.1 120.8 275.0 121.5C279.9 122.2 286.8 123.2 292.6 124.0C298.4 124.8 302.9 125.7 310.0 126.5C317.1 127.3 326.8 128.2 335.2 129.0C343.6 129.8 351.9 131.0 360.3 131.5C368.7 132.0 377.0 131.8 385.3 132.2C393.6 132.6 402.0 133.5 410.4 134.0C418.8 134.5 427.9 134.8 435.4 135.2C442.9 135.6 450.0 136.2 455.5 136.5C461.0 136.8 466.2 137.1 468.3 137.2"/>
<path d="M482.6 136.5C487.2 136.5 501.2 136.5 510.0 136.5C518.8 136.5 526.8 136.2 535.2 136.5C543.6 136.8 552.8 137.4 560.3 138.2C567.8 139.0 574.5 140.1 580.3 141.5C586.1 142.9 591.1 144.2 595.3 146.5C599.5 148.8 602.5 152.0 605.4 155.3C608.3 158.7 610.8 163.9 612.9 166.6C615.0 169.3 615.8 170.5 617.9 171.6C620.0 172.7 622.5 172.1 625.4 173.3C628.3 174.5 631.6 177.0 635.4 179.0C639.2 181.0 643.6 183.2 648.0 185.4C652.4 187.6 659.5 191.2 661.8 192.3"/>
<path d="M661.8 192.3C661.4 192.9 660.0 195.1 659.6 195.6"/>
<path d="M654.3 210.0C654.4 211.3 654.0 214.7 655.0 217.6C656.0 220.5 657.5 224.3 660.0 227.6C662.5 230.9 666.7 233.6 670.0 237.6C673.3 241.6 676.7 247.6 680.0 251.4C683.3 255.2 686.2 257.7 690.0 260.2C693.8 262.7 697.7 264.0 702.7 266.5C707.7 269.0 714.8 272.1 720.2 275.2C725.6 278.3 731.0 281.8 735.2 285.3C739.4 288.9 741.1 292.8 745.3 296.5C749.5 300.2 755.3 304.4 760.3 307.8C765.3 311.2 770.7 313.2 775.3 316.6C779.9 320.0 783.6 324.1 787.9 327.9C792.2 331.7 798.8 337.6 801.0 339.5"/>
<path class="ds" d="M83.0 122.2C87.5 121.7 101.3 119.5 110.0 119.0C118.7 118.5 126.7 119.2 135.0 119.0C143.3 118.8 151.6 118.1 160.0 117.7C168.4 117.3 176.9 116.8 185.3 116.4C193.7 116.0 202.1 115.6 210.4 115.2C218.8 114.8 227.1 114.2 235.4 114.2C243.7 114.2 253.4 114.9 260.0 115.2C266.6 115.5 269.6 115.4 275.0 116.0C280.4 116.6 286.8 118.1 292.6 119.0C298.4 119.9 302.9 120.5 310.0 121.5C317.1 122.5 326.8 124.1 335.2 125.2C343.6 126.3 351.9 127.4 360.3 128.2C368.7 128.9 377.0 129.3 385.3 129.7C393.6 130.1 402.0 130.4 410.4 130.7C418.8 131.0 427.0 131.3 435.4 131.5C443.8 131.7 452.2 131.7 460.5 131.8C468.8 131.9 476.8 132.2 485.0 132.2C493.2 132.1 501.6 131.8 510.0 131.5C518.4 131.2 526.8 130.6 535.2 130.7C543.6 130.8 554.0 131.9 560.3 132.2C566.6 132.5 569.0 132.3 572.8 132.7C576.5 133.1 579.9 134.1 582.8 134.7C585.7 135.3 587.2 135.6 590.3 136.5C593.4 137.4 596.2 138.6 601.6 140.3C607.0 142.0 615.2 144.2 622.9 146.5C630.6 148.8 641.8 152.4 648.0 154.0C654.2 155.6 655.8 155.0 660.0 155.8C664.2 156.6 667.1 157.8 673.0 159.0C678.9 160.2 687.6 161.8 695.6 162.9C703.6 164.0 713.6 164.4 720.7 165.4C727.8 166.4 731.9 167.3 738.2 169.0C744.5 170.7 752.9 173.3 758.3 175.4C763.7 177.5 766.8 179.3 770.8 181.7C774.8 184.1 778.1 186.1 782.0 190.0C785.9 193.9 790.9 201.5 794.1 205.0C797.3 208.5 799.9 210.0 801.0 211.0"/>
<path d="M157.7 51.0C158.0 53.3 159.7 60.2 159.7 65.0C159.7 69.8 158.6 75.2 157.7 80.0C156.8 84.8 155.0 91.0 154.5 94.0C154.0 97.0 153.5 96.5 154.7 98.0C155.9 99.5 158.9 101.6 161.5 103.0C164.1 104.4 167.8 105.4 170.3 106.4C172.8 107.4 174.0 108.8 176.5 109.0C179.0 109.2 181.8 107.8 185.3 107.7C188.9 107.6 193.6 107.8 197.8 108.2C202.0 108.6 205.8 110.4 210.4 110.2C215.0 110.0 220.4 107.4 225.4 107.2C230.4 107.0 236.3 108.4 240.5 109.0C244.7 109.6 245.9 110.5 250.5 110.7C255.1 110.9 262.2 110.1 268.0 110.4C273.8 110.7 278.8 111.7 285.0 112.7C291.2 113.7 298.7 115.1 305.0 116.4C311.3 117.7 316.4 119.4 322.7 120.7C329.0 122.0 336.4 123.2 342.7 124.0C349.0 124.8 355.7 124.8 360.3 125.2C364.9 125.6 368.6 126.3 370.3 126.5"/>
<path d="M383.3 126.5C387.8 126.8 401.7 127.7 410.4 128.2C419.1 128.7 427.0 129.6 435.4 129.7C443.8 129.8 452.2 128.9 460.5 128.6C468.8 128.3 476.8 128.1 485.0 127.7C493.2 127.4 501.6 126.8 510.0 126.5C518.4 126.2 526.8 125.9 535.2 126.0C543.6 126.1 552.8 126.6 560.3 127.2C567.8 127.8 575.7 129.0 580.3 129.7C584.9 130.4 586.7 131.0 588.0 131.3"/>
<path d="M601.5 133.6C605.1 134.5 615.1 137.5 622.9 139.0C630.6 140.5 642.1 142.2 648.0 142.8C653.9 143.4 652.2 142.6 658.0 142.8C663.8 143.0 674.7 143.7 683.0 144.0C691.3 144.3 699.6 144.5 708.0 144.6C716.4 144.7 724.8 144.9 733.2 144.6C741.6 144.3 749.9 143.7 758.3 142.8C766.6 141.9 776.2 140.5 783.3 139.0C790.4 137.5 798.0 134.8 801.0 134.0"/>
<path d="M319.6 51.0C319.7 53.3 320.3 59.3 320.2 65.0C320.1 70.7 319.3 79.6 318.9 85.0C318.5 90.4 317.4 94.4 317.6 97.6C317.8 100.8 318.5 101.9 320.2 104.0C321.9 106.1 324.8 108.4 327.7 110.2C330.6 112.0 333.9 113.7 337.7 114.7C341.4 115.7 346.0 115.7 350.2 116.4C354.4 117.1 359.4 118.3 362.8 119.0C366.2 119.7 369.1 120.4 370.3 120.7"/>
<path d="M383.3 120.7C386.1 120.7 395.0 120.5 400.4 120.7C405.8 121.0 409.6 122.1 415.4 122.2C421.2 122.3 428.7 121.5 435.4 121.5C442.1 121.5 448.1 122.2 455.5 122.2C462.9 122.2 473.0 121.2 480.0 121.2C487.0 121.2 491.3 122.5 497.6 122.2C503.9 122.0 511.3 120.0 517.6 119.7C523.9 119.4 529.4 120.5 535.2 120.2C541.1 120.0 547.3 118.4 552.7 118.2C558.1 118.0 563.2 118.5 567.8 119.0C572.4 119.5 577.0 120.9 580.3 121.5C583.6 122.1 586.5 122.5 587.8 122.7"/>
<path d="M601.5 126.0C605.1 126.9 615.1 130.1 622.9 131.5C630.6 132.9 642.1 134.1 648.0 134.7C653.9 135.3 652.2 135.2 658.0 135.3C663.8 135.4 674.7 135.5 683.0 135.3C691.3 135.1 699.6 134.6 708.0 134.0C716.4 133.4 724.8 132.8 733.2 131.5C741.6 130.2 749.9 128.6 758.3 126.5C766.6 124.4 776.2 121.4 783.3 119.0C790.4 116.6 798.0 113.3 801.0 112.2"/>
<path d="M587.8 51.0C587.8 55.4 587.8 69.4 587.8 77.6C587.8 85.8 587.4 95.2 587.8 100.0C588.2 104.8 588.2 103.9 590.3 106.4C592.4 108.9 596.2 112.6 600.4 115.2C604.6 117.8 609.6 120.5 615.4 122.2C621.2 123.9 628.3 124.4 635.4 125.2C642.5 126.0 652.1 126.7 658.0 127.0C663.9 127.3 664.2 127.2 670.5 127.0C676.8 126.8 687.2 126.5 695.6 125.8C704.0 125.1 713.2 124.3 720.7 122.8C728.2 121.2 734.4 118.9 740.7 116.5C747.0 114.1 755.4 109.6 758.3 108.2"/>
<path d="M780.8 102.2C782.5 101.8 787.4 100.5 790.8 99.7C794.2 99.0 799.3 98.0 801.0 97.7"/>
<path d="M624.2 51.0C623.9 53.3 622.8 59.3 622.4 65.0C622.0 70.7 621.6 79.2 621.7 85.0C621.8 90.8 621.9 96.4 622.9 100.0C623.9 103.6 625.1 104.3 628.0 106.4C630.9 108.5 635.5 110.9 640.5 112.7C645.5 114.5 653.8 116.4 658.0 117.2C662.2 118.0 661.3 117.8 665.5 117.7C669.7 117.6 677.1 117.3 683.0 116.5C688.9 115.7 697.7 113.3 700.6 112.7"/>
<path d="M723.2 101.5C725.9 100.0 736.2 94.8 739.5 92.7C742.8 90.6 742.3 90.7 743.2 89.0C744.1 87.3 744.9 85.9 745.0 82.7C745.1 79.5 744.5 74.2 744.0 70.0C743.5 65.8 742.4 60.8 742.0 57.6C741.6 54.4 741.6 52.1 741.5 51.0"/>
</g>
<line x1="800.5" y1="51.6" x2="800.5" y2="640.2" stroke="#2a2020" stroke-width="1"/>
<text class="cl" transform="translate(156.5 580.5) rotate(62)" y="5.1">4</text>
<text class="cl" transform="translate(137.2 240.0) rotate(80)" y="5.1">5</text>
<text class="cl" transform="translate(327.7 327.0) rotate(17)" y="5.1">5</text>
<text class="cl" transform="translate(520.2 429.5) rotate(38)" y="5.1">5</text>
<text class="cl" transform="translate(670.7 580.0) rotate(52)" y="5.1">5</text>
<text class="cl" transform="translate(154.0 143.6) rotate(0)" y="5.1">6</text>
<text class="cl" transform="translate(367.8 146.5) rotate(14)" y="5.1">6</text>
<text class="cl" transform="translate(465.0 271.6) rotate(6)" y="5.1">6</text>
<text class="cl" transform="translate(640.0 372.6) rotate(32)" y="5.1">6</text>
<text class="cl" transform="translate(255.8 119.3) rotate(0)" y="5.1">7</text>
<text class="cl" transform="translate(474.5 136.8) rotate(4)" y="5.1">7</text>
<text class="cl" transform="translate(656.2 202.6) rotate(-71)" y="5.1">7</text>
<text class="cl" transform="translate(376.3 125.8) rotate(3)" y="5.1">8</text>
<text class="cl" transform="translate(594.3 131.8) rotate(9)" y="5.1">8</text>
<text class="cl" transform="translate(376.3 120.2) rotate(0)" y="5.1">9</text>
<text class="cl" transform="translate(594.6 123.4) rotate(6)" y="5.1">9</text>
<text class="cl" transform="translate(769.5 104.0) rotate(-14)" y="5.1">10</text>
<text class="cl" transform="translate(711.8 105.3) rotate(-27)" y="5.1">11</text>
<path d="M869.4 640.2 L840.8 640.2 L841.4 410.0 L842.0 340.0 L842.7 290.0 L843.3 262.0 L844.3 240.0 L846.0 226.0 L848.2 200.4 L850.0 177.8 L851.8 159.7 L853.4 151.8 L855.6 149.3 L857.9 149.8 L859.5 151.8 L860.8 146.0 L861.7 140.5 L863.5 138.8 L865.2 141.6 L865.5 153.0 L866.5 176.0 L867.8 198.0 L869.0 216.0 L869.4 230.0Z" fill="#000"/>
<path d="M74.3 50.8 H877.3 M74.3 640.2 H877.3" stroke="#000" stroke-width="2.1" fill="none"/>
<path d="M82.6 49.8 V641.2" stroke="#000" stroke-width="2.4" fill="none"/>
<path d="M869.5 49.8 V641.2" stroke="#000" stroke-width="2.0" fill="none"/>
<path class="t1" d="M869.3 50.8 V42.5M869.3 640.2 V648.5M813.7 50.8 V44.8M813.7 640.2 V646.2M758.2 50.8 V42.5M758.2 640.2 V648.5M702.6 50.8 V44.8M702.6 640.2 V646.2M647.0 50.8 V42.5M647.0 640.2 V648.5M591.4 50.8 V44.8M591.4 640.2 V646.2M535.9 50.8 V42.5M535.9 640.2 V648.5M480.3 50.8 V44.8M480.3 640.2 V646.2M424.7 50.8 V42.5M424.7 640.2 V648.5M369.2 50.8 V44.8M369.2 640.2 V646.2M313.6 50.8 V42.5M313.6 640.2 V648.5M258.0 50.8 V44.8M258.0 640.2 V646.2M202.5 50.8 V42.5M202.5 640.2 V648.5M146.9 50.8 V44.8M146.9 640.2 V646.2M91.3 50.8 V42.5M91.3 640.2 V648.5M82.6 109.8 H76.2M869.4 109.8 H875.3M82.6 168.8 H74.3M869.4 168.8 H877.3M82.6 227.7 H76.2M869.4 227.7 H875.3M82.6 286.6 H74.3M869.4 286.6 H877.3M82.6 345.5 H76.2M869.4 345.5 H875.3M82.6 404.5 H74.3M869.4 404.5 H877.3M82.6 463.4 H76.2M869.4 463.4 H875.3M82.6 522.3 H74.3M869.4 522.3 H877.3M82.6 581.3 H76.2M869.4 581.3 H875.3"/>
<text class="tk" x="868.5" y="668.5" text-anchor="middle">0</text>
<text class="tk" x="757.4" y="668.5" text-anchor="middle">200</text>
<text class="tk" x="646.2" y="668.5" text-anchor="middle">400</text>
<text class="tk" x="535.1" y="668.5" text-anchor="middle">600</text>
<text class="tk" x="423.9" y="668.5" text-anchor="middle">800</text>
<text class="tk" x="312.8" y="668.5" text-anchor="middle">1000</text>
<text class="tk" x="201.7" y="668.5" text-anchor="middle">1200</text>
<text class="tk" x="90.5" y="668.5" text-anchor="middle">1400</text>
<text class="tk" x="72.6" y="57.8" text-anchor="end">0</text>
<text class="tk" x="72.6" y="175.7" text-anchor="end">100</text>
<text class="tk" x="72.6" y="293.5" text-anchor="end">200</text>
<text class="tk" x="72.6" y="411.4" text-anchor="end">300</text>
<text class="tk" x="72.6" y="529.2" text-anchor="end">400</text>
<text class="tk" x="72.6" y="647.1" text-anchor="end">500</text>
<path d="M78.0 30.2h9.2l-4.6 7zM104.2 30.2h9.2l-4.6 7zM130.8 30.2h9.2l-4.6 7zM170.0 30.2h9.2l-4.6 7zM210.2 30.2h9.2l-4.6 7zM250.3 30.2h9.2l-4.6 7zM290.5 30.2h9.2l-4.6 7zM330.6 30.2h9.2l-4.6 7zM370.8 30.2h9.2l-4.6 7zM411.0 30.2h9.2l-4.6 7zM451.1 30.2h9.2l-4.6 7zM491.4 30.2h9.2l-4.6 7zM532.0 30.2h9.2l-4.6 7zM572.2 30.2h9.2l-4.6 7zM612.8 30.2h9.2l-4.6 7zM653.1 30.2h9.2l-4.6 7zM673.2 30.2h9.2l-4.6 7zM693.9 30.2h9.2l-4.6 7zM713.8 30.2h9.2l-4.6 7zM734.8 30.2h9.2l-4.6 7zM755.0 30.2h9.2l-4.6 7zM774.9 30.2h9.2l-4.6 7zM795.8 30.2h9.2l-4.6 7zM815.9 30.2h9.2l-4.6 7zM830.0 30.2h9.2l-4.6 7zM844.0 30.2h9.2l-4.6 7zM864.0 30.2h9.2l-4.6 7z" fill="#000"/>
<text x="475" y="23.7" text-anchor="middle" style="font-size:24.85px;letter-spacing:0.21px">Temperature along Line-P - Nov. 2009</text>
<text x="475.2" y="702.7" text-anchor="middle" style="font-size:22px;letter-spacing:0.165px">Distance along Line-P (km)</text>
<text transform="translate(22.5 344.3) rotate(-90)" text-anchor="middle" textLength="175.6" lengthAdjust="spacingAndGlyphs" style="font-size:26.2px">Pressure (dbar)</text>
<text x="718.8" y="686" style="font-size:10.4px;letter-spacing:0.34px">Last update: 1st Dec. 2009</text>
</svg></body></html>
